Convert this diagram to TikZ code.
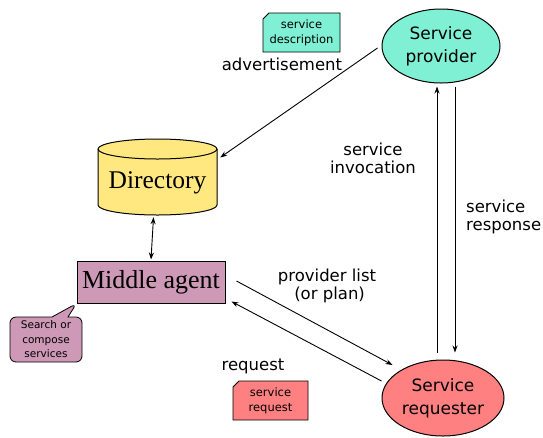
\documentclass[tikz,border=0pt]{standalone}
\usepackage{fontspec}
\setmainfont{Liberation Serif}
\newfontfamily\lab{DejaVu Sans}
\usetikzlibrary{arrows.meta,shapes.geometric,shapes.misc,shapes.callouts,calc}
\definecolor{provc}{RGB}{127,240,212}
\definecolor{reqc}{RGB}{255,128,128}
\definecolor{dirc}{RGB}{255,232,128}
\definecolor{mac}{RGB}{206,153,182}
\begin{document}
\begin{tikzpicture}[x=1pt,y=-1pt,
  lbl/.style={font=\lab\fontsize{16.5}{18}\selectfont, align=center, inner sep=0pt},
  ell/.style={ellipse, draw, line width=1pt, font=\lab\fontsize{17}{23}\selectfont, align=center, inner sep=0pt},
  note/.style={chamfered rectangle, chamfered rectangle corners=north west, chamfered rectangle xsep=3pt, chamfered rectangle ysep=3pt, draw, line width=0.8pt, font=\lab\fontsize{11.5}{15}\selectfont, align=center, inner sep=0pt},
  arr/.style={-{Stealth[length=7pt,width=5pt]}, line width=0.9pt},
  darr/.style={{Stealth[length=7pt,width=5pt]}-{Stealth[length=7pt,width=5pt]}, line width=0.9pt}]
\useasboundingbox (0,0) rectangle (543,437);
% Directory cylinder
\node[minimum width=119pt, minimum height=77pt, inner sep=0pt] (dir) at (157.5,176.5) {};
\path[draw, fill=dirc, line width=1pt] (98,149) -- (98,205) arc[start angle=180, end angle=360, x radius=59.5pt, y radius=10pt] -- (217,149) arc[start angle=0, end angle=180, x radius=59.5pt, y radius=10pt] -- cycle;
\draw[line width=1pt] (98,149) arc[start angle=180, end angle=360, x radius=59.5pt, y radius=10pt];
\node[font=\fontsize{25.5}{28}\selectfont, inner sep=0pt] (dirt) at (157.5,183) {Directory};
% Middle agent
\node[draw, fill=mac, minimum width=148pt, minimum height=42pt, font=\fontsize{26}{28}\selectfont, inner sep=0pt, line width=1pt] (ma) at (151,282) {Middle agent};
% Callout
\node[rectangle callout, draw, fill=mac, rounded corners=6pt, line width=0.8pt, minimum width=72pt, minimum height=45pt, inner sep=0pt, callout absolute pointer={(ma.south west)}, callout pointer width=16pt, font=\lab\fontsize{10.5}{14.5}\selectfont, align=center] (sc) at (46,339.5) {Search or\\compose\\services};
% Ellipses
\node[ell, fill=provc, minimum width=118pt, minimum height=74pt] (prov) at (441,46) {Service\\provider};
\node[ell, fill=reqc, minimum width=122pt, minimum height=76pt] (req) at (443,398) {Service\\requester};
% Notes
\node[note, fill=provc, minimum width=77pt, minimum height=39pt] (sd) at (301.5,32.5) {service\\description};
\node[note, fill=reqc, minimum width=75pt, minimum height=39pt] (sr) at (270.5,400.5) {service\\request};
% Labels
\node[lbl] (adv) at (282,64) {advertisement};
\node[lbl] (inv) at (373,158) {service\\invocation};
\node[lbl, align=left, anchor=west] (resp) at (466,217) {service\\response};
\node[lbl] (pl) at (327,286) {provider list\\\ (or plan)};
\node[lbl] (rq) at (253,366) {request};
% Connectors
\draw[arr] ($(prov.west)+(-4,2)$) -- ($(dir.east)+(3,-19)$);
\draw[arr] ($(req.north)+(-6,-7)$) -- ($(prov.south)+(-4,3)$);
\draw[arr] ($(prov.south)+(14,3)$) -- ($(req.north)+(12,-7)$);
\draw[darr] ($(dir.south)+(-4,2)$) -- ($(ma.north)+(0,-1)$);
\draw[arr] ($(ma.east)+(11,-1)$) -- ($(req.west)+(11,-33)$);
\draw[arr] ($(req.west)+(0,-17)$) -- ($(ma.south east)+(6,-2)$);
\end{tikzpicture}
\end{document}
